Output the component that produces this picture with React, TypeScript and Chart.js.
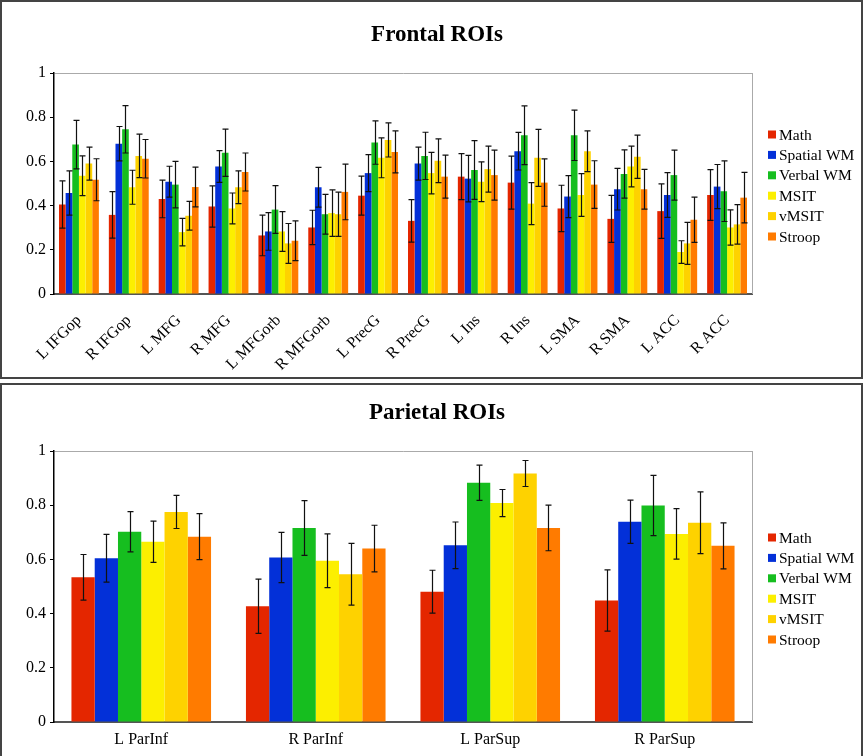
import React, { useEffect, useRef } from 'react';
import { Chart, registerables } from 'chart.js';

Chart.register(...registerables);

const FONT = "'Liberation Serif', 'Times New Roman', Times, serif";

// ---- shared ----
const seriesLabels = ['Math', 'Spatial WM', 'Verbal WM', 'MSIT', 'vMSIT', 'Stroop'];
const seriesColors = ['#E42600', '#0330D8', '#16BE1F', '#FCEF00', '#FED200', '#FF7B00'];
const yTickLabels = ['0', '0.2', '0.4', '0.6', '0.8', '1'];

// ---- Frontal ROIs ----
const frontalCategories = ['L IFGop', 'R IFGop', 'L MFG', 'R MFG', 'L MFGorb', 'R MFGorb', 'L PrecG', 'R PrecG', 'L Ins', 'R Ins', 'L SMA', 'R SMA', 'L ACC', 'R ACC'];
const frontalMath = [0.405, 0.358, 0.43, 0.396, 0.265, 0.301, 0.445, 0.331, 0.531, 0.504, 0.387, 0.34, 0.375, 0.448];
const frontalMathErr = [0.107, 0.105, 0.085, 0.093, 0.092, 0.078, 0.088, 0.096, 0.104, 0.12, 0.105, 0.106, 0.123, 0.115];
const frontalSpatial = [0.457, 0.68, 0.508, 0.577, 0.283, 0.483, 0.547, 0.59, 0.522, 0.646, 0.441, 0.474, 0.448, 0.486];
const frontalSpatialErr = [0.1, 0.078, 0.07, 0.072, 0.085, 0.09, 0.084, 0.075, 0.105, 0.085, 0.095, 0.094, 0.101, 0.1];
const frontalVerbal = [0.676, 0.745, 0.495, 0.639, 0.382, 0.361, 0.685, 0.625, 0.561, 0.718, 0.718, 0.543, 0.538, 0.465];
const frontalVerbalErr = [0.11, 0.107, 0.105, 0.107, 0.108, 0.09, 0.098, 0.107, 0.133, 0.133, 0.114, 0.109, 0.113, 0.137];
const frontalMSIT = [0.535, 0.483, 0.28, 0.387, 0.283, 0.366, 0.616, 0.547, 0.508, 0.409, 0.448, 0.577, 0.19, 0.301];
const frontalMSITErr = [0.09, 0.077, 0.062, 0.07, 0.09, 0.105, 0.09, 0.094, 0.09, 0.095, 0.097, 0.092, 0.051, 0.08];
const frontalVMSIT = [0.59, 0.625, 0.354, 0.483, 0.229, 0.361, 0.697, 0.603, 0.565, 0.616, 0.646, 0.621, 0.229, 0.315];
const frontalVMSITErr = [0.075, 0.098, 0.065, 0.074, 0.09, 0.1, 0.077, 0.099, 0.104, 0.129, 0.092, 0.098, 0.095, 0.089];
const frontalStroop = [0.517, 0.612, 0.484, 0.552, 0.241, 0.462, 0.643, 0.531, 0.538, 0.504, 0.495, 0.474, 0.336, 0.436];
const frontalStroopErr = [0.095, 0.087, 0.09, 0.086, 0.09, 0.126, 0.095, 0.097, 0.113, 0.107, 0.108, 0.09, 0.102, 0.114];

// ---- Parietal ROIs ----
const parietalCategories = ['L ParInf', 'R ParInf', 'L ParSup', 'R ParSup'];
const parietalMath = [0.534, 0.427, 0.481, 0.448];
const parietalMathErr = [0.084, 0.1, 0.079, 0.113];
const parietalSpatial = [0.604, 0.607, 0.652, 0.739];
const parietalSpatialErr = [0.088, 0.093, 0.086, 0.08];
const parietalVerbal = [0.702, 0.716, 0.883, 0.799];
const parietalVerbalErr = [0.074, 0.101, 0.065, 0.111];
const parietalMSIT = [0.665, 0.595, 0.808, 0.694];
const parietalMSITErr = [0.076, 0.099, 0.05, 0.093];
const parietalVMSIT = [0.775, 0.545, 0.917, 0.735];
const parietalVMSITErr = [0.061, 0.114, 0.048, 0.114];
const parietalStroop = [0.684, 0.64, 0.716, 0.65];
const parietalStroopErr = [0.085, 0.086, 0.084, 0.085];

const errorBarPlugin = {
  id: 'errorBars',
  afterDatasetsDraw(chart: any) {
    const ctx = chart.ctx;
    const yScale = chart.scales.y;
    ctx.save();
    ctx.strokeStyle = '#111';
    ctx.lineWidth = 1.2;
    chart.data.datasets.forEach((ds: any, i: number) => {
      const meta = chart.getDatasetMeta(i);
      meta.data.forEach((el: any, j: number) => {
        const v = ds.data[j];
        const e = ds.errors[j];
        const x = Math.round(el.x) + 0.5;
        const yt = yScale.getPixelForValue(v + e);
        const yb = yScale.getPixelForValue(v - e);
        ctx.beginPath();
        ctx.moveTo(x, yt);
        ctx.lineTo(x, yb);
        ctx.moveTo(x - 3, yt);
        ctx.lineTo(x + 3, yt);
        ctx.moveTo(x - 3, yb);
        ctx.lineTo(x + 3, yb);
        ctx.stroke();
      });
    });
    ctx.restore();
  },
};

const framePlugin = {
  id: 'plotFrame',
  afterDraw(chart: any) {
    const { ctx, chartArea } = chart;
    ctx.save();
    ctx.strokeStyle = '#aaaaaa';
    ctx.lineWidth = 1;
    ctx.beginPath();
    ctx.moveTo(Math.round(chartArea.right) + 0.5, chartArea.top);
    ctx.lineTo(Math.round(chartArea.right) + 0.5, chartArea.bottom);
    ctx.stroke();
    ctx.restore();
  },
};

const panelTitlePlugin = {
  id: 'panelTitle',
  afterDraw(chart: any, _args: any, opts: any) {
    const { ctx } = chart;
    ctx.save();
    ctx.font = `bold 23px ${FONT}`;
    ctx.fillStyle = '#000';
    ctx.textAlign = 'center';
    ctx.textBaseline = 'alphabetic';
    ctx.fillText(opts.text, opts.x, opts.baseline);
    ctx.restore();
  },
};

const sideLegendPlugin = {
  id: 'sideLegend',
  afterDraw(chart: any) {
    const { ctx, chartArea } = chart;
    const n = chart.data.datasets.length;
    const rowH = 20.4;
    const cy = (chartArea.top + chartArea.bottom) / 2 + 2;
    const boxX = chartArea.right + 16;
    ctx.save();
    ctx.font = `15.5px ${FONT}`;
    ctx.textBaseline = 'middle';
    ctx.textAlign = 'left';
    chart.data.datasets.forEach((ds: any, i: number) => {
      const yc = cy + (i - (n - 1) / 2) * rowH;
      ctx.fillStyle = ds.backgroundColor;
      ctx.fillRect(boxX, yc - 4, 8, 8);
      ctx.fillStyle = '#000';
      ctx.fillText(ds.label, boxX + 11, yc + 1);
    });
    ctx.restore();
  },
};

function makeConfig(title: string, categories: string[], values: number[][], errors: number[][], g: any) {
  return {
    type: 'bar',
    data: {
      labels: categories,
      datasets: seriesLabels.map((label, i) => ({
        label,
        data: values[i],
        errors: errors[i],
        backgroundColor: seriesColors[i],
        borderWidth: 0,
        barPercentage: 1.0,
        categoryPercentage: 0.8,
      })),
    },
    options: {
      responsive: false,
      animation: false,
      devicePixelRatio: 1,
      layout: { padding: { left: 0, right: 111, top: g.plotTop, bottom: 0 } },
      plugins: {
        legend: { display: false },
        tooltip: { enabled: false },
        title: { display: false },
        panelTitle: { text: title, x: 437, baseline: g.titleBaseline },
      },
      scales: {
        x: {
          grid: { display: false, drawTicks: false },
          border: { display: true, color: '#555', width: 2 },
          ticks: {
            color: '#000',
            font: { family: FONT, size: 16 },
            autoSkip: false,
            maxRotation: g.rotation,
            minRotation: g.rotation,
            padding: g.xPad,
          },
          afterFit: (scale: any) => {
            scale.height = g.xHeight;
          },
        },
        y: {
          min: 0,
          max: 1,
          grid: {
            color: (c: any) => (c.tick && c.tick.value === 1 ? '#aaaaaa' : 'rgba(0,0,0,0)'),
            tickColor: '#000',
            tickLength: 4,
            drawTicks: true,
          },
          border: { display: true, color: '#000', width: 1.5 },
          ticks: {
            stepSize: 0.2,
            color: '#000',
            padding: 4,
            font: { family: FONT, size: 16 },
            callback: (_v: any, idx: number) => yTickLabels[idx],
          },
          afterFit: (scale: any) => {
            scale.width = 54;
          },
        },
      },
    },
    plugins: [errorBarPlugin, framePlugin, panelTitlePlugin, sideLegendPlugin],
  };
}

function ChartPanel({ top, height, config }: { top: number; height: number; config: any }) {
  const ref = useRef<HTMLCanvasElement | null>(null);
  useEffect(() => {
    if (!ref.current) return;
    const chart = new Chart(ref.current, config);
    return () => chart.destroy();
  }, []);
  return (
    <div style={{ position: 'absolute', left: 0, top, width: 863, height }}>
      <canvas ref={ref} width={863} height={height} style={{ display: 'block', width: 863, height }} />
      <div
        style={{
          position: 'absolute',
          left: 0,
          top: 0,
          width: 863,
          height: height + 1,
          boxSizing: 'border-box',
          border: '2px solid #444',
          pointerEvents: 'none',
        }}
      />
    </div>
  );
}

export default function App() {
  const frontalConfig = makeConfig(
    'Frontal ROIs',
    frontalCategories,
    [frontalMath, frontalSpatial, frontalVerbal, frontalMSIT, frontalVMSIT, frontalStroop],
    [frontalMathErr, frontalSpatialErr, frontalVerbalErr, frontalMSITErr, frontalVMSITErr, frontalStroopErr],
    { plotTop: 73, titleBaseline: 41, xHeight: 84, rotation: 45, xPad: 17 }
  );
  const parietalConfig = makeConfig(
    'Parietal ROIs',
    parietalCategories,
    [parietalMath, parietalSpatial, parietalVerbal, parietalMSIT, parietalVMSIT, parietalStroop],
    [parietalMathErr, parietalSpatialErr, parietalVerbalErr, parietalMSITErr, parietalVMSITErr, parietalStroopErr],
    { plotTop: 68, titleBaseline: 36, xHeight: 41, rotation: 0, xPad: 8 }
  );
  return (
    <div style={{ position: 'absolute', left: 0, top: 0, width: 863, height: 756, overflow: 'hidden', background: '#fff' }}>
      <ChartPanel top={0} height={378} config={frontalConfig} />
      <ChartPanel top={383} height={380} config={parietalConfig} />
    </div>
  );
}
